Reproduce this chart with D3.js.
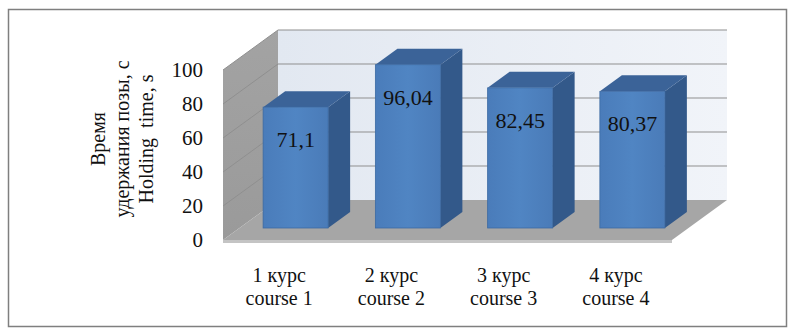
<!DOCTYPE html>
<html>
<head>
<meta charset="utf-8">
<script src="https://cdn.jsdelivr.net/npm/d3@7"></script>
<style>
  body { margin: 0; background: #fff; }
  text { font-family: "Liberation Serif", "Times New Roman", serif; fill: #111; }
</style>
</head>
<body>
<div id="chart-container"></div>
<script>
const categoriesRu = ["1 курс", "2 курс", "3 курс", "4 курс"];
const categoriesEn = ["course 1", "course 2", "course 3", "course 4"];
const holdingTime = [71.1, 96.04, 82.45, 80.37];
const valueLabels = ["71,1", "96,04", "82,45", "80,37"];
const yTicks = [0, 20, 40, 60, 80, 100];
const yTitle = ["Время", "удержания позы, с", "Holding  time, s"];

const width = 795, height = 335;
const depthX = 55, depthY = -40;   // offset of back wall from front plane
const serif = "Liberation Serif";

const svg = d3.select("#chart-container")
    .append("svg")
    .attr("width", width)
    .attr("height", height);

const defs = svg.append("defs");
const wallGrad = defs.append("linearGradient").attr("id", "wall").attr("x1", 0).attr("y1", 0).attr("x2", 1).attr("y2", 0);
wallGrad.append("stop").attr("offset", "0%").attr("stop-color", "#e2e8f1");
wallGrad.append("stop").attr("offset", "100%").attr("stop-color", "#f1f4f9");
const sideGrad = defs.append("linearGradient").attr("id", "side").attr("x1", 0).attr("y1", 0).attr("x2", 0).attr("y2", 1);
sideGrad.append("stop").attr("offset", "0%").attr("stop-color", "#a3a3a3");
sideGrad.append("stop").attr("offset", "100%").attr("stop-color", "#9a9a9a");
const frontGrad = defs.append("linearGradient").attr("id", "front").attr("x1", 0).attr("y1", 0).attr("x2", 1).attr("y2", 0);
frontGrad.append("stop").attr("offset", "0%").attr("stop-color", "#4a7cba");
frontGrad.append("stop").attr("offset", "50%").attr("stop-color", "#5085c3");
frontGrad.append("stop").attr("offset", "100%").attr("stop-color", "#4a7bb8");

// outer frame
svg.append("rect")
    .attr("x", 8.5).attr("y", 9.5)
    .attr("width", 778).attr("height", 317)
    .attr("fill", "none")
    .attr("stroke", "#7f7f7f")
    .attr("stroke-width", 1.5);

const x = d3.scaleBand()
    .domain(categoriesRu)
    .range([223, 672]);

const y = d3.scaleLinear()
    .domain([0, 100])
    .range([240, 70]);

// project a point at depth z (0 = front plane, 1 = back wall)
function P(px, v, z) {
    return [px + depthX * z, y(v) + depthY * z];
}
function poly(pts) { return pts.map(function(p) { return p.join(","); }).join(" "); }

const x0 = x.range()[0], x1 = x.range()[1];

// back wall
svg.append("polygon")
    .attr("points", poly([P(x0, 0, 1), P(x1, 0, 1), P(x1, 100, 1), P(x0, 100, 1)]))
    .attr("fill", "url(#wall)");

// left wall
svg.append("polygon")
    .attr("points", poly([P(x0, 0, 0), P(x0, 0, 1), P(x0, 100, 1), P(x0, 100, 0)]))
    .attr("fill", "url(#side)");

// gridlines
const grid = svg.append("g").attr("fill", "none");
yTicks.filter(function(t) { return t > 0; }).forEach(function(t) {
    grid.append("polyline")
        .attr("points", poly([P(x0, t, 0), P(x0, t, 1), P(x1, t, 1)]))
        .attr("stroke", "#8f8f8f")
        .attr("stroke-width", 1);
});

// floor (top face plus a thin front edge)
svg.append("polygon")
    .attr("points", poly([P(x0, 0, 0), P(x1, 0, 0), P(x1, 0, 1), P(x0, 0, 1)]))
    .attr("fill", "#a6a6a6");
svg.append("rect")
    .attr("x", x0).attr("y", y(0))
    .attr("width", x1 - x0).attr("height", 3)
    .attr("fill", "#c4c4c4");

// bars
const zF = 0.3, zB = 0.7;
const barW = 65;
const bars = svg.append("g");
holdingTime.forEach(function(v, i) {
    const c = categoriesRu[i];
    const l = x(c) + x.bandwidth() / 2 - barW / 2;
    const r = l + barW;
    const g = bars.append("g");
    // side
    g.append("polygon")
        .attr("points", poly([P(r, 0, zF), P(r, 0, zB), P(r, v, zB), P(r, v, zF)]))
        .attr("fill", "#33598a");
    // top
    g.append("polygon")
        .attr("points", poly([P(l, v, zF), P(r, v, zF), P(r, v, zB), P(l, v, zB)]))
        .attr("fill", "#3b6398");
    // front
    const a = P(l, v, zF), b = P(r, 0, zF);
    g.append("rect")
        .attr("x", a[0]).attr("y", a[1])
        .attr("width", b[0] - a[0]).attr("height", b[1] - a[1])
        .attr("fill", "url(#front)")
        .attr("stroke", "#3c6aa3")
        .attr("stroke-width", 0.8);
    g.append("text")
        .attr("x", (a[0] + b[0]) / 2)
        .attr("y", a[1] + 40)
        .attr("text-anchor", "middle")
        .attr("font-family", serif)
        .attr("font-size", "22px")
        .text(valueLabels[i]);
});

// y tick labels
svg.append("g")
    .selectAll("text")
    .data(yTicks)
    .join("text")
    .attr("x", 203)
    .attr("y", function(d) { return y(d) + 7; })
    .attr("text-anchor", "end")
    .attr("font-family", serif)
    .attr("font-size", "21px")
    .text(function(d) { return d; });

// category labels
categoriesRu.forEach(function(c, i) {
    const cx = x(c) + x.bandwidth() / 2;
    svg.append("text")
        .attr("x", cx).attr("y", 282)
        .attr("text-anchor", "middle")
        .attr("font-family", serif)
        .attr("font-size", "20px")
        .text(c);
    svg.append("text")
        .attr("x", cx).attr("y", 305)
        .attr("text-anchor", "middle")
        .attr("font-family", serif)
        .attr("font-size", "20px")
        .text(categoriesEn[i]);
});

// y axis title
const title = svg.append("text")
    .attr("transform", "translate(105,139) rotate(-90)")
    .attr("text-anchor", "middle")
    .attr("font-family", serif)
    .attr("font-size", "20px")
    .style("white-space", "pre");
yTitle.forEach(function(t, i) {
    title.append("tspan")
        .attr("x", 0)
        .attr("dy", i === 0 ? 0 : 24)
        .text(t);
});
</script>
</body>
</html>
